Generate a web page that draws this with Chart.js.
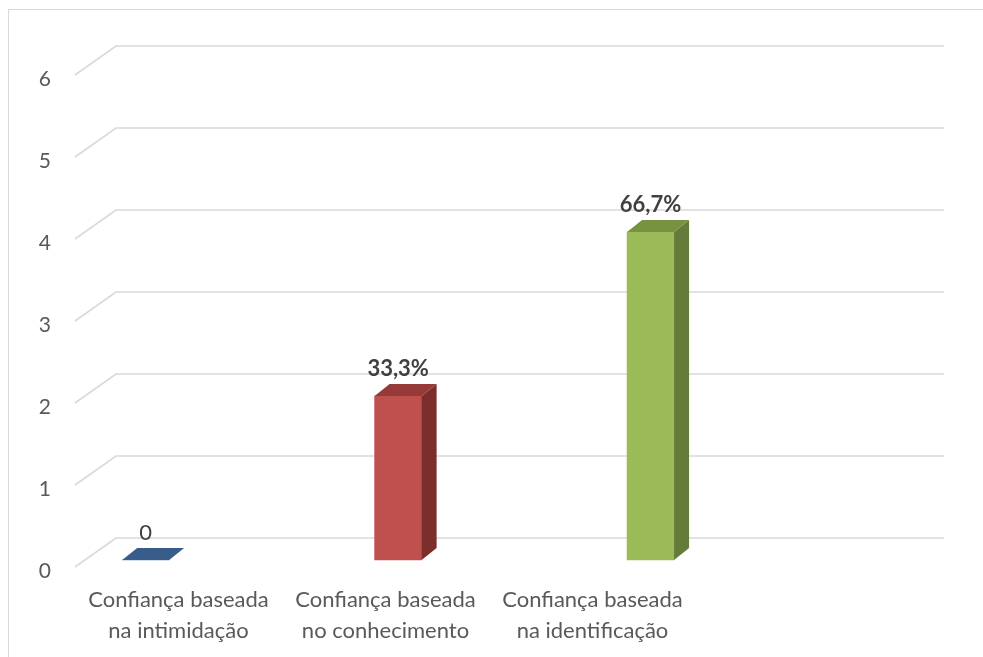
<!DOCTYPE html>
<html lang="pt">
<head>
    <meta charset="UTF-8">
    <title>Confiança</title>
    <script src="https://cdn.jsdelivr.net/npm/chart.js"></script>
    <style>
        html, body { margin: 0; padding: 0; background: #fff; }
        #wrap { width: 983px; height: 657px; }
    </style>
</head>
<body>
    <div id="wrap"><canvas id="chart" width="983" height="657"></canvas></div>

    <script>
        // data
        const categories = [
            ["Confiança baseada", "na intimidação"],
            ["Confiança baseada", "no conhecimento"],
            ["Confiança baseada", "na identificação"],
            ""
        ];
        const values = [0, 2, 4];
        const valueLabels = ["0", "33,3%", "66,7%"];
        const yTicks = [0, 1, 2, 3, 4, 5, 6];

        const frontColors = ["#4f81bd", "#c0504d", "#9bbb59"];
        const sideColors = ["#2c4d75", "#7b2e2c", "#657b39"];
        const topColors = ["#385d8a", "#953a38", "#78933f"];

        const FONT = "Lato";
        const DEPTH_X = 41, DEPTH_Y = 29;   // floor / wall depth
        const BAR_DX = 15, BAR_DY = 12;     // bar depth

        const wallsPlugin = {
            id: "walls",
            beforeDraw(chart) {
                const ctx = chart.ctx;
                const area = chart.chartArea;
                const y = chart.scales.y;
                ctx.save();
                ctx.fillStyle = "#fff";
                ctx.fillRect(0, 0, chart.width, chart.height);
                ctx.strokeStyle = "#d9d9d9";
                ctx.lineWidth = 1;
                ctx.strokeRect(8.5, 9.5, 1000, 700);
                ctx.lineWidth = 1.6;
                yTicks.forEach(v => {
                    const py = y.getPixelForValue(v);
                    ctx.beginPath();
                    ctx.moveTo(area.left, py);
                    ctx.lineTo(area.left + DEPTH_X, py - DEPTH_Y);
                    ctx.lineTo(area.right + DEPTH_X, py - DEPTH_Y);
                    ctx.stroke();
                });
                ctx.restore();
            },
            afterDatasetsDraw(chart) {
                const ctx = chart.ctx;
                const meta = chart.getDatasetMeta(0);
                ctx.save();
                meta.data.forEach((bar, i) => {
                    const p = bar.getProps(["x", "y", "base", "width"], true);
                    const x1 = p.x - p.width / 2, x2 = p.x + p.width / 2;
                    const top = Math.min(p.y, p.base), bottom = Math.max(p.y, p.base);
                    // side face
                    if (bottom - top > 0.5) {
                        ctx.fillStyle = sideColors[i];
                        ctx.beginPath();
                        ctx.moveTo(x2, top);
                        ctx.lineTo(x2 + BAR_DX, top - BAR_DY);
                        ctx.lineTo(x2 + BAR_DX, bottom - BAR_DY);
                        ctx.lineTo(x2, bottom);
                        ctx.closePath();
                        ctx.fill();
                    }
                    // top face
                    ctx.fillStyle = topColors[i];
                    ctx.beginPath();
                    ctx.moveTo(x1, top);
                    ctx.lineTo(x1 + BAR_DX, top - BAR_DY);
                    ctx.lineTo(x2 + BAR_DX, top - BAR_DY);
                    ctx.lineTo(x2, top);
                    ctx.closePath();
                    ctx.fill();
                    // value label
                    ctx.fillStyle = "#404040";
                    ctx.textAlign = "center";
                    ctx.textBaseline = "middle";
                    ctx.font = (values[i] > 0 ? "bold " : "") + "22px " + FONT;
                    ctx.fillText(valueLabels[i], p.x, top - BAR_DY - 15);
                });
                ctx.restore();
            }
        };

        new Chart(document.getElementById("chart"), {
            type: "bar",
            data: {
                labels: categories,
                datasets: [{
                    data: values.map((v, i) => ({ x: i, y: v })),
                    backgroundColor: frontColors,
                    borderWidth: 0,
                    barThickness: 47,
                    xAxisID: "xb",
                    yAxisID: "yb"
                }]
            },
            options: {
                responsive: false,
                animation: false,
                layout: { padding: { left: 0, top: 75, right: 80, bottom: 0 } },
                plugins: { legend: { display: false }, tooltip: { enabled: false } },
                scales: {
                    x: {
                        type: "category",
                        offset: true,
                        grid: { display: false, drawTicks: false },
                        border: { display: false },
                        ticks: {
                            color: "#595959",
                            font: { family: FONT, size: 22, lineHeight: 1.4 },
                            padding: 18,
                            maxRotation: 0,
                            autoSkip: false
                        },
                        afterFit: s => { s.height = 90; }
                    },
                    y: {
                        min: 0,
                        max: 6,
                        ticks: {
                            stepSize: 1,
                            color: "#595959",
                            font: { family: FONT, size: 21 },
                            padding: 24,
                            labelOffset: 4
                        },
                        grid: { display: false, drawTicks: false },
                        border: { display: false },
                        afterFit: s => { s.width = 75; }
                    },
                    xb: {
                        type: "linear",
                        display: false,
                        offset: false,
                        min: -0.28,
                        max: 3
                    },
                    yb: {
                        display: false,
                        min: -0.0854,
                        max: 5.9146
                    }
                }
            },
            plugins: [wallsPlugin]
        });
    </script>
</body>
</html>
